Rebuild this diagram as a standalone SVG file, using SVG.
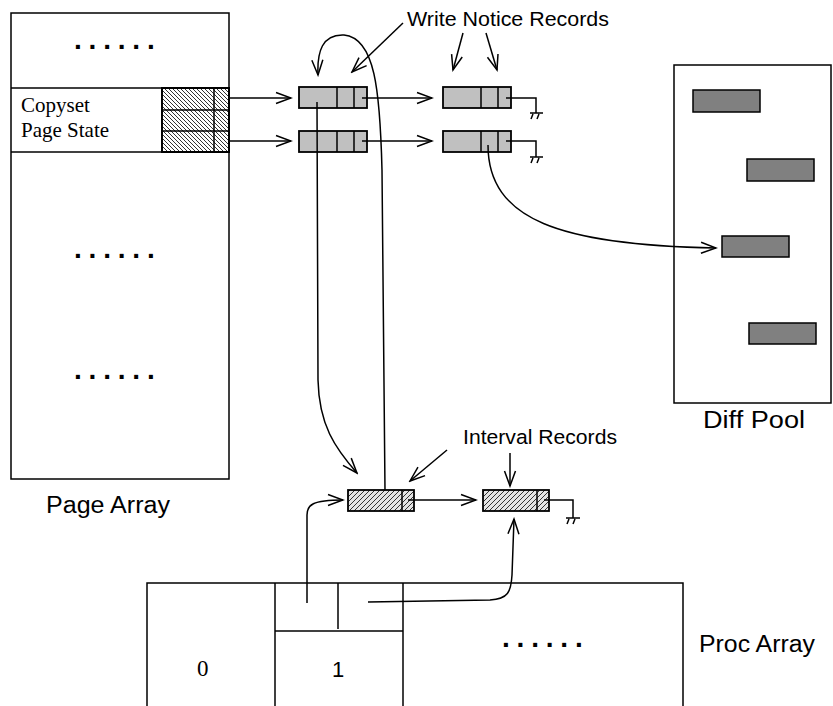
<svg xmlns="http://www.w3.org/2000/svg" width="833" height="706" viewBox="0 0 833 706">
<style>
.box{fill:#fff;stroke:#000;stroke-width:1.5}
.ln{fill:none;stroke:#000;stroke-width:1.5}
.wn{fill:#c0c0c0;stroke:#000;stroke-width:1.8}
.diff{fill:#808080;stroke:#000;stroke-width:1.5}
.sans{font-family:"Liberation Sans",Arial,sans-serif;fill:#000}
.serif{font-family:"Liberation Serif","Times New Roman",serif;fill:#000}
.dots{font-family:"Liberation Sans",Arial,sans-serif;font-size:28px;font-weight:bold;letter-spacing:6.8px;fill:#000}
.arr{fill:none;stroke:#000;stroke-width:1.5;marker-end:url(#ah)}
</style>
<defs>
<marker id="ah" markerUnits="userSpaceOnUse" markerWidth="18" markerHeight="14" refX="16" refY="7" orient="auto" viewBox="0 0 18 14">
<path d="M1,1.5 L16,7 L1,12.5" fill="none" stroke="#000" stroke-width="1.5"/>
</marker>
<pattern id="hatchB" patternUnits="userSpaceOnUse" width="4" height="4">
<rect width="4" height="4" fill="#fff"/>
<path d="M-1,-1 L5,5 M-1,3 L1,5 M3,-1 L5,1" stroke="#333" stroke-width="1"/>
</pattern>
<pattern id="hatchF" patternUnits="userSpaceOnUse" width="5" height="5">
<rect width="5" height="5" fill="#e4e4e4"/>
<path d="M-1,6 L6,-1 M-1,1 L1,-1 M4,6 L6,4" stroke="#333" stroke-width="1"/>
</pattern>
</defs>

<g id="page-array">
<rect class="box" x="11" y="13" width="218" height="466"/>
<line class="ln" x1="11" y1="88" x2="229" y2="88"/>
<line class="ln" x1="11" y1="152" x2="229" y2="152"/>
<rect x="162" y="88" width="67" height="64" fill="url(#hatchB)" stroke="#000" stroke-width="2"/>
<line class="ln" x1="162" y1="110" x2="229" y2="110" stroke-width="2"/>
<line class="ln" x1="162" y1="131" x2="229" y2="131" stroke-width="2"/>
<line class="ln" x1="214" y1="88" x2="214" y2="152"/>
<text class="serif" x="21" y="112" font-size="21">Copyset</text>
<text class="serif" x="21" y="137" font-size="21">Page State</text>
<text class="dots" x="74" y="49">......</text>
<text class="dots" x="74" y="258">......</text>
<text class="dots" x="74" y="379">......</text>
<text class="sans" x="46" y="513" font-size="23" textLength="124" lengthAdjust="spacingAndGlyphs">Page Array</text>
</g>

<g id="write-notice-records">
<rect class="wn" x="299" y="87" width="68" height="21"/>
<line class="ln" x1="337" y1="87" x2="337" y2="108" stroke-width="1.8"/>
<line class="ln" x1="354" y1="87" x2="354" y2="108" stroke-width="1.8"/>
<rect class="wn" x="299" y="131" width="68" height="21"/>
<line class="ln" x1="337" y1="131" x2="337" y2="152" stroke-width="1.8"/>
<line class="ln" x1="354" y1="131" x2="354" y2="152" stroke-width="1.8"/>
<rect class="wn" x="443" y="87" width="68" height="21"/>
<line class="ln" x1="481" y1="87" x2="481" y2="108" stroke-width="1.8"/>
<line class="ln" x1="498" y1="87" x2="498" y2="108" stroke-width="1.8"/>
<rect class="wn" x="443" y="131" width="68" height="21"/>
<line class="ln" x1="481" y1="131" x2="481" y2="152" stroke-width="1.8"/>
<line class="ln" x1="498" y1="131" x2="498" y2="152" stroke-width="1.8"/>
<text class="sans" x="407" y="26" font-size="19.5" textLength="202" lengthAdjust="spacingAndGlyphs">Write Notice Records</text>
</g>

<g id="diff-pool">
<rect class="box" x="674" y="65" width="157" height="338"/>
<rect class="diff" x="693" y="90" width="67" height="22"/>
<rect class="diff" x="747" y="159" width="67" height="22"/>
<rect class="diff" x="722" y="236" width="67" height="21"/>
<rect class="diff" x="749" y="323" width="67" height="21"/>
<text class="sans" x="703" y="428" font-size="23" textLength="102" lengthAdjust="spacingAndGlyphs">Diff Pool</text>
</g>

<g id="interval-records">
<rect x="348" y="490" width="66" height="21" fill="url(#hatchF)" stroke="#000" stroke-width="1.8"/>
<line class="ln" x1="402" y1="490" x2="402" y2="511"/>
<rect x="483" y="490" width="66" height="21" fill="url(#hatchF)" stroke="#000" stroke-width="1.8"/>
<line class="ln" x1="537" y1="490" x2="537" y2="511"/>
<text class="sans" x="463" y="444" font-size="20.5" textLength="154" lengthAdjust="spacingAndGlyphs">Interval Records</text>
</g>

<g id="proc-array">
<path class="ln" d="M147,706 L147,583 L683,583 L683,706"/>
<line class="ln" x1="275" y1="583" x2="275" y2="706"/>
<line class="ln" x1="403" y1="583" x2="403" y2="706"/>
<line class="ln" x1="275" y1="631" x2="403" y2="631"/>
<line class="ln" x1="338" y1="583" x2="338" y2="629"/>
<text class="serif" x="197" y="676" font-size="23">0</text>
<text class="sans" x="332" y="677" font-size="22">1</text>
<text class="dots" x="502" y="647">......</text>
<text class="sans" x="699" y="652" font-size="23" textLength="116" lengthAdjust="spacingAndGlyphs">Proc Array</text>
</g>

<g id="connectors">
<line class="arr" x1="229" y1="98" x2="291" y2="98"/>
<line class="arr" x1="229" y1="141" x2="291" y2="141"/>
<line class="arr" x1="362" y1="98" x2="432" y2="98"/>
<line class="arr" x1="362" y1="141" x2="432" y2="141"/>
<path class="ln" d="M506,98 L536,98 L536,113 M530,113 L543,113 M533,114 L531,119 M539,114 L537,119"/>
<path class="ln" d="M506,141 L536,141 L536,157 M530,157 L543,157 M533,158 L531,163 M539,158 L537,163"/>
<path class="arr" d="M488,145 C488,220 560,245 716,248"/>
<path class="arr" d="M403,23 L352,72"/>
<path class="arr" d="M463,33 L453,70"/>
<path class="arr" d="M486,33 L497,70"/>
<path class="arr" d="M385,490 L382,170 C380,90 375,38 344,35 C322,34 317,52 318,75"/>
<path class="arr" d="M317,102 L318,380 C319,425 335,448 357,473"/>
<path class="arr" d="M447,450 L410,481"/>
<path class="arr" d="M510,453 L510,486"/>
<line class="arr" x1="408" y1="500" x2="476" y2="500"/>
<path class="ln" d="M544,500 L573,500 L573,518 M566,518 L580,518 M569,519 L567,524 M575,519 L573,524"/>
<path class="arr" d="M307,603 L307,515 C307,505 312,500 343,500"/>
<path class="arr" d="M368,602 L490,600 C508,599 511,592 512,575 L514,519"/>
</g>
</svg>
